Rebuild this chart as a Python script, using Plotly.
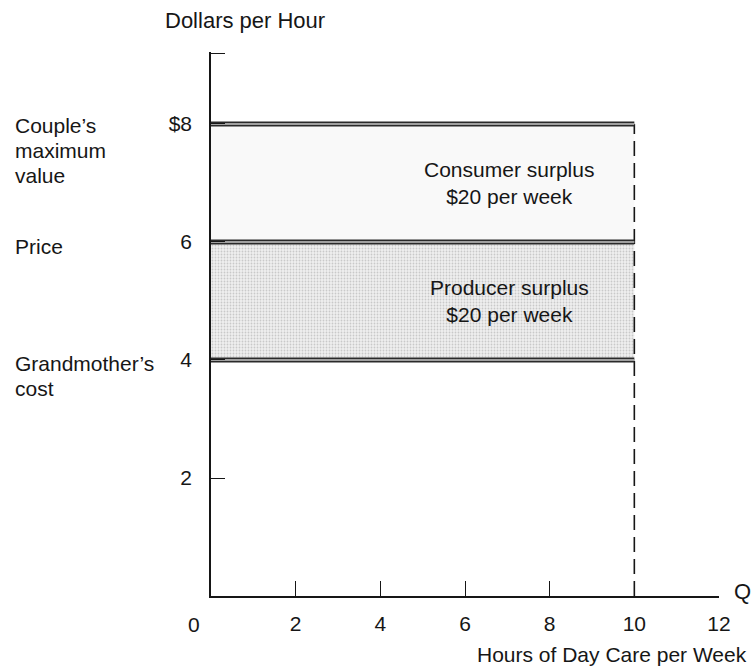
import plotly.graph_objects as go

# Day-care market: one couple, one grandmother
hours = 10                      # hours of day care per week
max_value = 8                   # couple's maximum value, $/hour
price = 6                       # price, $/hour
cost = 4                        # grandmother's cost, $/hour

x_ticks = [2, 4, 6, 8, 10, 12]
x_tick_text = ["2", "4", "6", "8", "10", "12"]
y_ticks = [2, 4, 6, 8]
y_tick_text = ["2", "4", "6", "$8"]
x_max = 12
y_max = 9.2

consumer_surplus = (max_value - price) * hours
producer_surplus = (price - cost) * hours

FONT = "Liberation Sans, Arial, Helvetica, sans-serif"
INK = "#161616"
FS = 22

fig = go.Figure()

# Consumer surplus area (very light)
fig.add_trace(go.Scatter(
    x=[0, hours, hours, 0, 0], y=[price, price, max_value, max_value, price],
    mode="lines", line=dict(width=0), fill="toself", fillcolor="#f9f9f9",
    hoverinfo="skip", showlegend=False))

# Producer surplus area (stippled grey)
fig.add_trace(go.Scatter(
    x=[0, hours, hours, 0, 0], y=[cost, cost, price, price, cost],
    mode="lines", line=dict(width=0), fill="toself", fillcolor="#ebebeb",
    fillpattern=dict(shape=".", fgcolor="#a3a3a3", bgcolor="#efefef",
                     size=3, solidity=0.3),
    hoverinfo="skip", showlegend=False))

# Quantity marker: dashed vertical at Q = 10
fig.add_trace(go.Scatter(
    x=[hours, hours], y=[0, max_value], mode="lines",
    line=dict(color=INK, width=1.6, dash="15px,7px"),
    hoverinfo="skip", showlegend=False))

# Value, price and cost levels drawn as outlined bars
for level in [max_value, price, cost]:
    fig.add_trace(go.Scatter(
        x=[0, hours], y=[level, level], mode="lines",
        line=dict(color="#2a2a2a", width=5),
        hoverinfo="skip", showlegend=False))
    fig.add_trace(go.Scatter(
        x=[0, hours], y=[level, level], mode="lines",
        line=dict(color="#c9c9c9", width=1.4),
        hoverinfo="skip", showlegend=False))

annotations = []

# Surplus labels inside the shaded areas
for yc, name, amount in [((max_value + price) / 2, "Consumer surplus", consumer_surplus),
                         ((price + cost) / 2, "Producer surplus", producer_surplus)]:
    annotations.append(dict(
        x=7.05, y=yc, xref="x", yref="y",
        text=f"{name}<br>${amount} per week",
        showarrow=False, align="center", xanchor="center", yanchor="middle",
        font=dict(family=FONT, size=FS - 1, color=INK)))

# Left-hand descriptions of the price levels
side_labels = [
    (max_value, ["Couple\u2019s", "maximum", "value"], -2),
    (price, ["Price"], -5),
    (cost, ["Grandmother\u2019s", "cost"], -4),
]
for level, lines, shift in side_labels:
    for i, txt in enumerate(lines):
        annotations.append(dict(
            x=-0.39, y=level, xref="paper", yref="y",
            text=txt, showarrow=False, xanchor="left", yanchor="middle",
            yshift=shift - 25 * i,
            font=dict(family=FONT, size=FS - 1, color=INK)))

# Origin label
annotations.append(dict(
    x=0, y=0, xref="x", yref="y", text="0", showarrow=False,
    xanchor="center", yanchor="middle", xshift=-17, yshift=-28,
    font=dict(family=FONT, size=FS - 1, color=INK)))

# Axis titles
annotations.append(dict(
    x=-0.094, y=1.058, xref="paper", yref="paper", text="Dollars per Hour",
    showarrow=False, xanchor="left", yanchor="middle",
    font=dict(family=FONT, size=FS, color=INK)))
annotations.append(dict(
    x=1.026, y=0, xref="paper", yref="y", text="Q",
    showarrow=False, xanchor="left", yanchor="middle", yshift=5,
    font=dict(family=FONT, size=FS, color=INK)))
annotations.append(dict(
    x=1.059, y=-0.108, xref="paper", yref="paper",
    text="Hours of Day Care per Week",
    showarrow=False, xanchor="right", yanchor="middle",
    font=dict(family=FONT, size=FS - 1, color=INK)))

fig.update_layout(
    width=753, height=670,
    margin=dict(l=211, r=34, t=52, b=74),
    paper_bgcolor="white", plot_bgcolor="white",
    showlegend=False,
    annotations=annotations,
    font=dict(family=FONT, size=FS, color=INK),
    xaxis=dict(
        range=[0, x_max], showgrid=False, zeroline=False,
        showline=True, linecolor=INK, linewidth=1.6,
        ticks="inside", ticklen=15, tickwidth=1.4, tickcolor=INK,
        tickvals=x_ticks, ticktext=x_tick_text,
        ticklabelstandoff=8,
        tickfont=dict(family=FONT, size=FS - 1, color=INK),
        fixedrange=True),
    yaxis=dict(
        range=[0, y_max + 0.02], showgrid=False, zeroline=False,
        showline=True, linecolor=INK, linewidth=1.6,
        ticks="inside", ticklen=14, tickwidth=1.4, tickcolor=INK,
        tickvals=y_ticks + [y_max], ticktext=y_tick_text + [""],
        ticklabelstandoff=13,
        tickfont=dict(family=FONT, size=FS - 1, color=INK),
        fixedrange=True),
)

fig.write_html("out.html")
